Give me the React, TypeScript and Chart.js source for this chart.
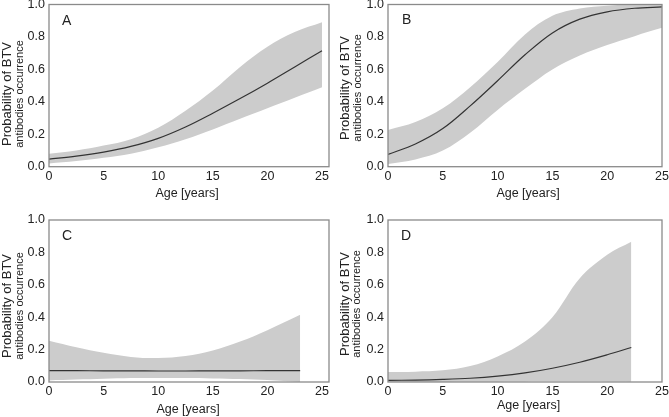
import { useEffect, useRef } from "react";
import { Chart, registerables } from "chart.js";

Chart.register(...registerables);

const FONT = '"Liberation Sans", Arial, Helvetica, sans-serif';

// ---- data ----
const agesA = [0, 2.5, 5, 7.5, 10, 12.5, 15, 17.5, 20, 22.5, 25];
const fitA = [0.047, 0.065, 0.09, 0.125, 0.175, 0.245, 0.33, 0.42, 0.515, 0.615, 0.715];
const upperA = [0.08, 0.1, 0.13, 0.17, 0.24, 0.345, 0.47, 0.615, 0.74, 0.83, 0.89];
const lowerA = [0.02, 0.035, 0.055, 0.08, 0.12, 0.17, 0.23, 0.295, 0.36, 0.425, 0.49];

const agesB = [0, 2.5, 5, 7.5, 10, 12.5, 15, 17.5, 20, 22.5, 25];
const fitB = [0.076, 0.14, 0.235, 0.375, 0.53, 0.69, 0.825, 0.91, 0.955, 0.977, 0.985];
const upperB = [0.226, 0.275, 0.36, 0.49, 0.645, 0.815, 0.93, 0.975, 0.993, 1.0, 1.0];
const lowerB = [0.016, 0.045, 0.1, 0.21, 0.35, 0.48, 0.6, 0.685, 0.75, 0.805, 0.856];

const agesC = [0, 2.5, 5, 7.5, 10, 12.5, 15, 17.5, 20, 23];
const fitC = [0.07, 0.07, 0.069, 0.069, 0.068, 0.068, 0.069, 0.069, 0.07, 0.07];
const upperC = [0.255, 0.215, 0.18, 0.155, 0.148, 0.16, 0.195, 0.25, 0.32, 0.415];
const lowerC = [0.01, 0.015, 0.02, 0.025, 0.025, 0.025, 0.022, 0.018, 0.012, 0.0];

const agesD = [0, 2.5, 5, 7.5, 10, 12.5, 15, 17.5, 20, 22.2];
const fitD = [0.01, 0.012, 0.016, 0.023, 0.036, 0.056, 0.085, 0.122, 0.168, 0.213];
const upperD = [0.062, 0.064, 0.072, 0.098, 0.158, 0.25, 0.4, 0.64, 0.785, 0.865];
const lowerD = [0.0, 0.0, 0.0, 0.001, 0.002, 0.003, 0.004, 0.004, 0.003, 0.002];

const xTickValues = [0, 5, 10, 15, 20, 25];
const yTickValues = [0, 0.2, 0.4, 0.6, 0.8, 1.0];
const panelLetters = ["A", "B", "C", "D"];
const yTitleLine1 = "Probability of BTV";
const yTitleLine2 = "antibodies occurrence";
const xTitleText = "Age [years]";

// ---- layout (page coordinates) ----
type Cfg = {
  letter: string;
  ages: number[];
  fit: number[];
  upper: number[];
  lower: number[];
  xMax: number;
  canvas: { x: number; y: number; w: number; h: number };
  plot: { l: number; t: number; r: number; b: number };
  letterPos: { x: number; y: number };
  yT1x: number;
  yT2x: number;
  yTcy: number;
  xTitle: { x: number; y: number };
};

const panels: Cfg[] = [
  {
    letter: panelLetters[0], ages: agesA, fit: fitA, upper: upperA, lower: lowerA, xMax: 25.64,
    canvas: { x: 0, y: -16, w: 345, h: 226 },
    plot: { l: 49, t: 4.5, r: 329, b: 166.7 },
    letterPos: { x: 62, y: 25 }, yT1x: 7.5, yT2x: 20, yTcy: 94, xTitle: { x: 187, y: 193.5 },
  },
  {
    letter: panelLetters[1], ages: agesB, fit: fitB, upper: upperB, lower: lowerB, xMax: 25,
    canvas: { x: 334, y: -16, w: 345, h: 226 },
    plot: { l: 388, t: 4.5, r: 662, b: 166.7 },
    letterPos: { x: 402, y: 24 }, yT1x: 345, yT2x: 357.5, yTcy: 88, xTitle: { x: 528, y: 194 },
  },
  {
    letter: panelLetters[2], ages: agesC, fit: fitC, upper: upperC, lower: lowerC, xMax: 25.64,
    canvas: { x: 0, y: 200, w: 345, h: 230 },
    plot: { l: 49, t: 220, r: 329, b: 382 },
    letterPos: { x: 62, y: 239.5 }, yT1x: 7.5, yT2x: 20, yTcy: 306, xTitle: { x: 188, y: 409.5 },
  },
  {
    letter: panelLetters[3], ages: agesD, fit: fitD, upper: upperD, lower: lowerD, xMax: 25,
    canvas: { x: 334, y: 200, w: 345, h: 230 },
    plot: { l: 388, t: 220, r: 662, b: 382 },
    letterPos: { x: 401, y: 240 }, yT1x: 345, yT2x: 357, yTcy: 304, xTitle: { x: 528.5, y: 406 },
  },
];

function Panel({ cfg }: { cfg: Cfg }) {
  const ref = useRef<HTMLCanvasElement | null>(null);

  useEffect(() => {
    const canvas = ref.current;
    if (!canvas) return;
    const { canvas: c, plot: p } = cfg;
    const yWidth = p.l - c.x;
    const padTop = p.t - c.y;
    const padRight = c.x + c.w - p.r;
    const xHeight = c.y + c.h - p.b;

    const toPts = (vals: number[]) => cfg.ages.map((a, i) => ({ x: a, y: vals[i] }));

    const decor = {
      id: "decor",
      afterDatasetsDraw(chart: any) {
        const { ctx, chartArea: a } = chart;
        ctx.save();
        ctx.strokeStyle = "#8a8a8a";
        ctx.lineWidth = 1.3;
        ctx.strokeRect(a.left, a.top, a.right - a.left, a.bottom - a.top);
        ctx.restore();
      },
      afterDraw(chart: any) {
        const ctx = chart.ctx as CanvasRenderingContext2D;
        ctx.save();
        ctx.fillStyle = "#222";
        ctx.font = `14px ${FONT}`;
        ctx.textAlign = "left";
        ctx.textBaseline = "alphabetic";
        ctx.fillText(cfg.letter, cfg.letterPos.x - c.x, cfg.letterPos.y - c.y);
        ctx.font = `12.5px ${FONT}`;
        ctx.textAlign = "center";
        ctx.textBaseline = "middle";
        ctx.fillText(xTitleText, cfg.xTitle.x - c.x, cfg.xTitle.y - c.y);
        ctx.save();
        ctx.translate(cfg.yT1x - c.x, cfg.yTcy - c.y);
        ctx.rotate(-Math.PI / 2);
        ctx.font = `13px ${FONT}`;
        ctx.fillText(yTitleLine1, 0, 0);
        ctx.restore();
        ctx.save();
        ctx.translate(cfg.yT2x - c.x, cfg.yTcy - c.y);
        ctx.rotate(-Math.PI / 2);
        ctx.font = `11px ${FONT}`;
        ctx.fillText(yTitleLine2, 0, 0);
        ctx.restore();
        ctx.restore();
      },
    };

    const tickFont = { family: FONT, size: 12.5 };
    const TENSION = 0.35;

    const chart = new Chart(canvas, {
      type: "line",
      data: {
        datasets: [
          {
            data: toPts(cfg.lower),
            borderColor: "rgba(0,0,0,0)",
            borderWidth: 0,
            pointRadius: 0,
            fill: false,
            order: 2,
            tension: TENSION,
          },
          {
            data: toPts(cfg.upper),
            borderColor: "rgba(0,0,0,0)",
            borderWidth: 0,
            pointRadius: 0,
            backgroundColor: "#cccccc",
            fill: "-1",
            order: 1,
            tension: TENSION,
          },
          {
            data: toPts(cfg.fit),
            borderColor: "#333333",
            borderWidth: 1.2,
            pointRadius: 0,
            fill: false,
            order: -1,
            tension: TENSION,
          },
        ],
      },
      options: {
        animation: false,
        responsive: false,
        devicePixelRatio: window.devicePixelRatio || 1,
        layout: { padding: { left: 0, top: padTop, right: padRight, bottom: 0 } },
        plugins: {
          legend: { display: false },
          tooltip: { enabled: false },
          title: { display: false },
          filler: { drawTime: "beforeDatasetsDraw" },
        },
        events: [],
        scales: {
          x: {
            type: "linear",
            min: 0,
            max: cfg.xMax,
            grid: { display: false, drawTicks: false },
            border: { display: false },
            ticks: {
              font: tickFont,
              color: "#222",
              padding: 2,
              maxRotation: 0,
              includeBounds: false,
              callback: (v: any) => String(v),
            },
            afterBuildTicks: (s: any) => {
              s.ticks = xTickValues.map((v) => ({ value: v }));
            },
            afterFit: (s: any) => {
              s.height = xHeight;
            },
          },
          y: {
            type: "linear",
            min: 0,
            max: 1,
            grid: { display: false, drawTicks: false },
            border: { display: false },
            ticks: {
              font: tickFont,
              color: "#222",
              padding: 4,
              callback: (v: any) => Number(v).toFixed(1),
            },
            afterBuildTicks: (s: any) => {
              s.ticks = yTickValues.map((v) => ({ value: v }));
            },
            afterFit: (s: any) => {
              s.width = yWidth;
            },
          },
        },
      } as any,
      plugins: [decor],
    });

    return () => chart.destroy();
  }, [cfg]);

  return (
    <canvas
      ref={ref}
      width={cfg.canvas.w}
      height={cfg.canvas.h}
      style={{
        position: "absolute",
        left: cfg.canvas.x,
        top: cfg.canvas.y,
        width: cfg.canvas.w,
        height: cfg.canvas.h,
      }}
    />
  );
}

export default function App() {
  return (
    <div
      style={{
        position: "absolute",
        left: 0,
        top: 0,
        width: 669,
        height: 417,
        overflow: "hidden",
        background: "#ffffff",
      }}
    >
      {panels.map((p) => (
        <Panel key={p.letter} cfg={p} />
      ))}
    </div>
  );
}
